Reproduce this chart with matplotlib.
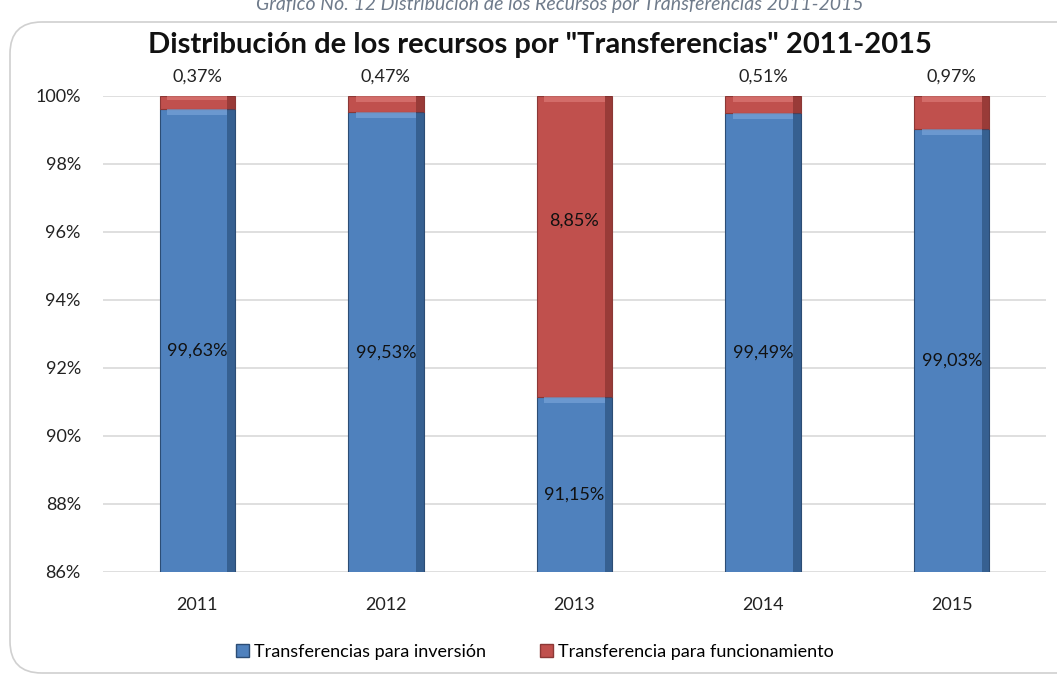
import matplotlib.pyplot as plt
from matplotlib.patches import FancyBboxPatch, Patch
from matplotlib import ticker

# data
years = ["2011", "2012", "2013", "2014", "2015"]
inversion = [99.63, 99.53, 91.15, 99.49, 99.03]
funcionamiento = [0.37, 0.47, 8.85, 0.51, 0.97]
inv_labels = ["99,63%", "99,53%", "91,15%", "99,49%", "99,03%"]
fun_labels = ["0,37%", "0,47%", "8,85%", "0,51%", "0,97%"]

blue = "#4F81BD"
red = "#C0504D"

plt.rcParams["font.family"] = ["Lato", "DejaVu Sans"]

fig = plt.figure(figsize=(10.57, 6.81), dpi=100)

# rounded chart frame (behind the axes)
frame = FancyBboxPatch((10 / 1057, 8 / 681), 1.1, 651 / 681, transform=fig.transFigure,
                       boxstyle="round,pad=0,rounding_size=0.03", facecolor="white",
                       edgecolor="#d0d0d0", linewidth=1.2, mutation_aspect=1057 / 681, zorder=-5)
fig.patches.append(frame)

fig.text(0.53, 0.994, "Gráfico No. 12 Distribución de los Recursos por Transferencias 2011-2015",
         ha="center", va="center", fontsize=14, style="italic", color="#6f7b8b")

ax = fig.add_axes([103 / 1057, 1 - 572 / 681, (1046 - 103) / 1057, (572 - 96) / 681])
ax.set_facecolor("none")
x = range(len(years))
width = 0.40

bars_inv = ax.bar(x, inversion, width, color=blue, edgecolor="#2c4d75", linewidth=0.8, zorder=3)
bars_fun = ax.bar(x, funcionamiento, width, bottom=inversion, color=red, edgecolor="#8c3836",
                  linewidth=0.8, zorder=3)

# bevel look: darker right edge, lighter top band
for bars, dark, light in ((bars_inv, "#23456e", "#7fa8dc"), (bars_fun, "#7a2a28", "#e07f7c")):
    for b in bars:
        bx, bw = b.get_x(), b.get_width()
        y0, h = b.get_y(), b.get_height()
        lo = max(y0, 86)
        ax.fill_between([bx + bw * 0.9, bx + bw], lo, y0 + h, color=dark, alpha=0.55, zorder=4, lw=0)
        ax.fill_between([bx + bw * 0.1, bx + bw * 0.9], y0 + h - min(0.18, h * 0.35), y0 + h,
                        color=light, alpha=0.6, zorder=4, lw=0)

ax.set_ylim(86, 100)
ax.set_xlim(-0.5, len(years) - 0.5)
ax.yaxis.set_major_locator(ticker.MultipleLocator(2))
ax.yaxis.set_major_formatter(ticker.FuncFormatter(lambda v, _: f"{v:.0f}%"))
ax.set_xticks(list(x))
ax.set_xticklabels(years)
ax.tick_params(axis="both", length=0, labelsize=13, colors="#222222")
ax.tick_params(axis="x", pad=18)
ax.tick_params(axis="y", pad=16)
ax.grid(axis="y", color="#d9d9d9", linewidth=1.2, zorder=0)
for s in ax.spines.values():
    s.set_visible(False)

# data labels
for i in x:
    vis_mid = (86 + inversion[i]) / 2 - 0.3
    ax.text(i, vis_mid, inv_labels[i], ha="center", va="center", fontsize=13, color="#111111", zorder=5)
    if funcionamiento[i] > 3:
        ax.text(i, inversion[i] + funcionamiento[i] / 2 + 0.75, fun_labels[i], ha="center", va="center",
                fontsize=13, color="#111111", zorder=5)
    else:
        ax.annotate(fun_labels[i], (i, 100), xytext=(0, 14), textcoords="offset points",
                    ha="center", va="center", fontsize=13, color="#222222", annotation_clip=False)

fig.text(540 / 1057, 1 - 45 / 681, 'Distribución de los recursos por "Transferencias" 2011-2015',
         ha="center", va="center", fontsize=21, fontweight="bold", color="#111111")

handles = [Patch(facecolor=blue, edgecolor="#2c4d75"), Patch(facecolor=red, edgecolor="#8c3836")]
fig.legend(handles, ["Transferencias para inversión", "Transferencia para funcionamiento"],
           loc="center", bbox_to_anchor=(535 / 1057, 1 - 652 / 681), ncol=2, frameon=False,
           fontsize=13, handlelength=0.7, handleheight=0.7, handletextpad=0.3, columnspacing=3)

fig.savefig("out.png", dpi=100)
